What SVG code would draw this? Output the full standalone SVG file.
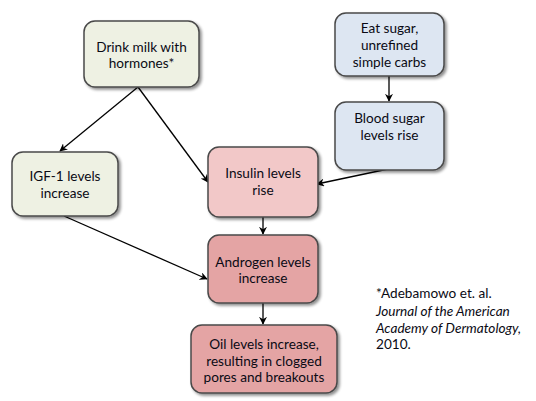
<svg xmlns="http://www.w3.org/2000/svg" width="536" height="401" viewBox="0 0 536 401">
<defs>
<filter id="sh" x="-10%" y="-10%" width="130%" height="130%">
<feGaussianBlur in="SourceAlpha" stdDeviation="1.5"/>
<feOffset dx="1.5" dy="2" result="b"/>
<feComponentTransfer><feFuncA type="linear" slope="0.45"/></feComponentTransfer>
<feMerge><feMergeNode/><feMergeNode in="SourceGraphic"/></feMerge>
</filter>
<marker id="ah" viewBox="0 0 10 10" refX="9" refY="5" markerWidth="8" markerHeight="8" orient="auto" markerUnits="userSpaceOnUse">
<path d="M0,0 L10,5 L0,10 L3,5 Z" fill="#000"/>
</marker>
</defs>
<style>
.box{stroke:#4a4a4a;stroke-width:1.5;filter:url(#sh)}
.g{fill:#eef1e3}
.b{fill:#dde6f2}
.p{fill:#f2c8c8}
.r{fill:#e4a4a4}
text{font-family:Lato,"Open Sans","Liberation Sans",sans-serif;font-size:13.6px;fill:#0a0a14;text-anchor:middle}
.fn{text-anchor:start}
.it{font-style:italic}
.c line{stroke:#000;stroke-width:1.3;marker-end:url(#ah)}
</style>
<rect width="536" height="401" fill="#fff"/>
<g class="c" id="connectors">
<line x1="138" y1="87" x2="60" y2="151"/>
<line x1="138" y1="87" x2="208" y2="182"/>
<line x1="389" y1="76" x2="389" y2="101"/>
<line x1="388" y1="169" x2="317" y2="184"/>
<line x1="263" y1="217" x2="263" y2="234"/>
<line x1="64" y1="216" x2="207" y2="279"/>
<line x1="263" y1="303" x2="263" y2="324"/>
</g>
<g id="milk">
<rect class="box g" x="84" y="21" width="115" height="66" rx="11"/>
<text x="141.5" y="52">Drink milk with</text>
<text x="141.5" y="68">hormones*</text>
</g>
<g id="sugar">
<rect class="box b" x="335" y="13" width="109" height="63" rx="11"/>
<text x="389.5" y="33">Eat sugar,</text>
<text x="389.5" y="50">unrefined</text>
<text x="389.5" y="67">simple carbs</text>
</g>
<g id="blood">
<rect class="box b" x="335" y="102" width="109" height="68" rx="11"/>
<text x="389.5" y="123">Blood sugar</text>
<text x="389.5" y="140">levels rise</text>
</g>
<g id="igf">
<rect class="box g" x="12" y="152" width="106" height="64" rx="11"/>
<text x="65" y="181">IGF-1 levels</text>
<text x="65" y="198">increase</text>
</g>
<g id="insulin">
<rect class="box p" x="208" y="147" width="110" height="70" rx="11"/>
<text x="263" y="178">Insulin levels</text>
<text x="263" y="195">rise</text>
</g>
<g id="androgen">
<rect class="box r" x="208" y="235" width="110" height="68" rx="11"/>
<text x="263" y="267">Androgen levels</text>
<text x="263" y="283">increase</text>
</g>
<g id="oil">
<rect class="box r" x="191" y="325" width="146" height="68" rx="11"/>
<text x="264" y="349">Oil levels increase,</text>
<text x="264" y="366">resulting in clogged</text>
<text x="264" y="382">pores and breakouts</text>
</g>
<g id="footnote">
<text class="fn" x="376" y="298">*Adebamowo et. al.</text>
<text class="fn it" x="376" y="316">Journal of the American</text>
<text class="fn it" x="376" y="333">Academy of Dermatology,</text>
<text class="fn" x="376" y="349">2010.</text>
</g>
</svg>
